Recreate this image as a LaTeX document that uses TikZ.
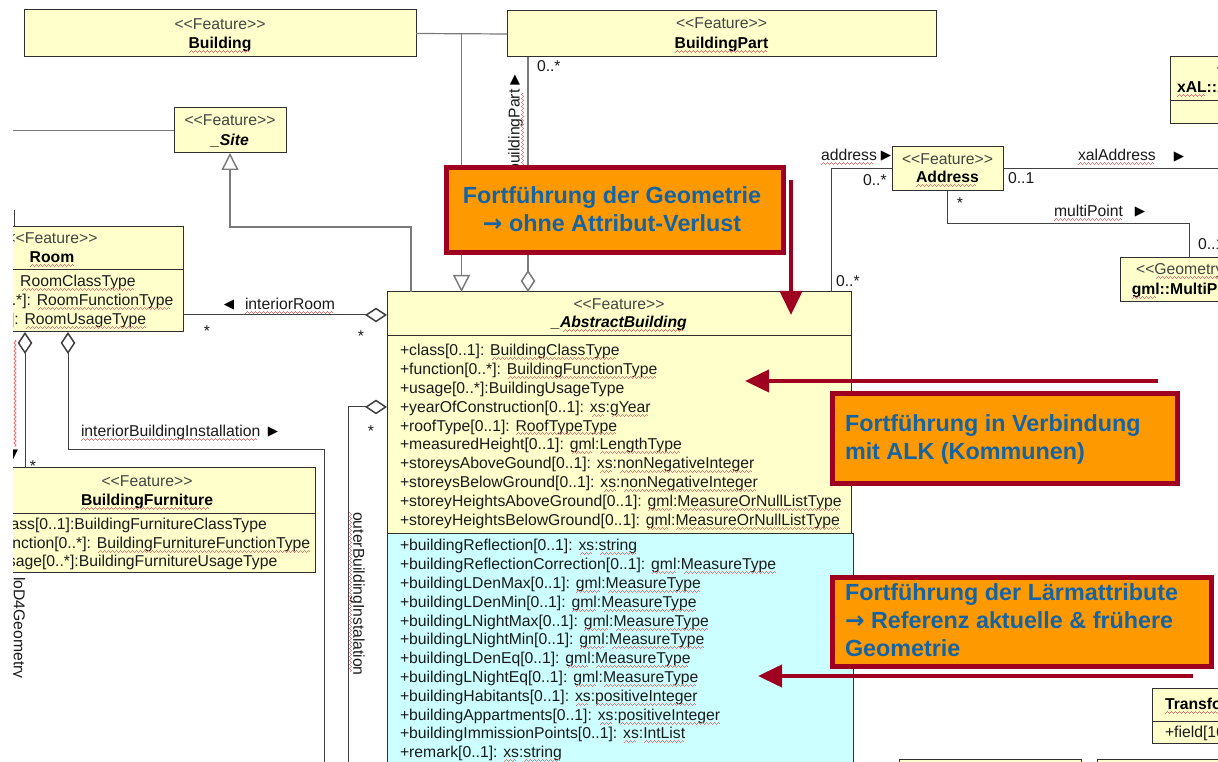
\documentclass[tikz,border=0pt]{standalone}
\usepackage{fontspec}
\setmainfont{Liberation Sans}
\newfontfamily\symf{DejaVu Sans}
\usetikzlibrary{arrows.meta,decorations.pathmorphing,calc}

\definecolor{umlyellow}{HTML}{FFFFCC}
\definecolor{umlcyan}{HTML}{CCFFFF}
\definecolor{umlframe}{HTML}{303030}
\definecolor{umlline}{HTML}{404040}
\definecolor{umlgray}{HTML}{7A7A7A}
\definecolor{umltext}{HTML}{1A1A1A}
\definecolor{stereo}{HTML}{444444}
\definecolor{squig}{HTML}{F07070}
\definecolor{noteframe}{HTML}{A00020}
\definecolor{notefill}{HTML}{FF9900}
\definecolor{notetext}{HTML}{1464A5}

% red spell-check wave under a word
\newsavebox\sqbox
\newcommand\sqwave{\hbox{\rule[-3pt]{0.75pt}{0.5pt}\rule[-2.25pt]{0.75pt}{0.5pt}\rule[-1.5pt]{0.75pt}{0.5pt}\rule[-2.25pt]{0.75pt}{0.5pt}}}
\newcommand\sq[1]{\sbox\sqbox{#1}\leavevmode\rlap{\usebox\sqbox}{\color{squig}\leaders\sqwave\hskip\wd\sqbox}}
% stereotype brackets, kept as plain angle brackets
\newcommand\stype[1]{<\kern0pt<#1>\kern0pt>}
% bold arrow used in the notes
\newcommand\notearr{{\symf\bfseries →}}

% class rectangle: name, x, y, width, height, fill (pixel units)
\newcommand\umlrect[6]{\node[classbox, fill=#6, minimum width={(#4)*0.75pt}, minimum height={(#5)*0.75pt}] (#1) at (#2,#3) {};}

\tikzset{
  classbox/.style={draw=umlframe, line width=0.75pt, inner sep=0pt, outer sep=0pt, anchor=north west},
  uml/.style={inner sep=0pt, outer sep=0pt, font=\fontsize{11.8}{14}\selectfont, text=umltext},
  stereotype/.style={uml, text=stereo, anchor=base},
  classname/.style={uml, font=\fontsize{11.8}{14}\selectfont\bfseries, text=black, anchor=base},
  attr/.style={uml, anchor=base west},
  lbl/.style={uml, anchor=base west},
  vlbl/.style={uml, anchor=center},
  mult/.style={uml, anchor=base},
  sym/.style={inner sep=0pt, outer sep=0pt, font=\symf\fontsize{10}{10}\selectfont, text=black},
  gline/.style={draw=umlgray, line width=0.9pt},
  uline/.style={draw=umlline, line width=0.75pt},
  gen/.style={-{Triangle[open, length=12.75pt, width=12.75pt, line width=1.1pt]}},
  aggS/.style={{Diamond[open, length=16.5pt, width=11pt, line width=1.1pt]}-},
  aggE/.style={-{Diamond[open, length=16.5pt, width=11pt, line width=1.1pt]}},
  note/.style={draw=noteframe, fill=notefill, line width=3.75pt, inner sep=0pt, anchor=north west},
  notetxt/.style={inner sep=0pt, outer sep=0pt, font=\bfseries\fontsize{17.5}{21}\selectfont, text=notetext},
  notearrow/.style={draw=noteframe, line width=3pt, -{Triangle[length=18pt, width=16.5pt]}},
}

\begin{document}
\begin{tikzpicture}[x=0.75pt, y=-0.75pt]
\useasboundingbox (0,0) rectangle (1218,762);
\fill[white] (0,0) rectangle (1218,762);
\begin{scope}
\clip (13,0) rectangle (1218,762);

% ---------- classes ----------
\umlrect{building}{24}{10}{392}{47}{umlyellow}
\node[stereotype] (building-st) at (220,30) {\stype{Feature}};
\node[classname] (building-nm) at (220,49) {\sq{Building}};

\umlrect{buildingpart}{507}{11}{429}{46}{umlyellow}
\node[stereotype] (buildingpart-st) at (721.5,29) {\stype{Feature}};
\node[classname] (buildingpart-nm) at (721.5,49) {\sq{BuildingPart}};

\umlrect{site}{174}{108}{112}{45}{umlyellow}
\node[stereotype] (site-st) at (230,126) {\stype{Feature}};
\node[classname, font=\fontsize{11.8}{14}\selectfont\bfseries\itshape] (site-nm) at (230,146) {\_Site};

\umlrect{room}{-79}{227}{262}{105}{umlyellow}
\draw[umlframe, line width=0.75pt] (room.west |- 0,270) -- (room.east |- 0,270);
\node[stereotype] (room-st) at (52,244) {\stype{Feature}};
\node[classname] (room-nm) at (52,263) {\sq{Room}};
\node[attr] (room-a1) at (-70,287) {+class[0..1]: \sq{RoomClassType}};
\node[attr] (room-a2) at (-70,306) {+function[0..*]: \sq{RoomFunctionType}};
\node[attr] (room-a3) at (-70,325) {+usage[0..*]: \sq{RoomUsageType}};

\umlrect{furn}{-21}{468}{336}{105}{umlyellow}
\draw[umlframe, line width=0.75pt] (furn.west |- 0,514) -- (furn.east |- 0,514);
\node[stereotype] (furn-st) at (147,487) {\stype{Feature}};
\node[classname] (furn-nm) at (147,506) {\sq{BuildingFurniture}};
\node[attr] (furn-a1) at (-10,530) {+class[0..1]:BuildingFurnitureClassType};
\node[attr] (furn-a2) at (-10,549) {+function[0..*]: \sq{BuildingFurnitureFunctionType}};
\node[attr] (furn-a3) at (-10,567) {+usage[0..*]:BuildingFurnitureUsageType};

\umlrect{noise}{387}{534}{466}{240}{umlcyan}
\umlrect{ab}{387}{292}{464}{242}{umlyellow}
\draw[umlframe, line width=0.75pt] (ab.west |- 0,336) -- (ab.east |- 0,336);
\node[stereotype] (ab-st) at (619,310) {\stype{Feature}};
\node[classname, font=\fontsize{11.8}{14}\selectfont\bfseries\itshape] (ab-nm) at (619,328) {\_\sq{AbstractBuilding}};
\foreach \t [count=\i from 0] in {
  {+class[0..1]: \sq{BuildingClassType}},
  {+function[0..*]: \sq{BuildingFunctionType}},
  {+usage[0..*]:BuildingUsageType},
  {+yearOfConstruction[0..1]: \sq{xs}:\sq{gYear}},
  {+roofType[0..1]: \sq{RoofTypeType}},
  {+measuredHeight[0..1]: \sq{gml}:\sq{LengthType}},
  {+storeysAboveGound[0..1]: \sq{xs}:\sq{nonNegativeInteger}},
  {+storeysBelowGround[0..1]: \sq{xs}:\sq{nonNegativeInteger}},
  {+storeyHeightsAboveGround[0..1]: \sq{gml}:\sq{MeasureOrNullListType}},
  {+storeyHeightsBelowGround[0..1]: \sq{gml}:\sq{MeasureOrNullListType}}}
  \node[attr] (ab-a\i) at (400,355.5+18.9*\i) {\t};
\foreach \t [count=\i from 0] in {
  {+buildingReflection[0..1]: \sq{xs}:\sq{string}},
  {+buildingReflectionCorrection[0..1]: \sq{gml}:\sq{MeasureType}},
  {+buildingLDenMax[0..1]: \sq{gml}:\sq{MeasureType}},
  {+buildingLDenMin[0..1]: \sq{gml}:\sq{MeasureType}},
  {+buildingLNightMax[0..1]: \sq{gml}:\sq{MeasureType}},
  {+buildingLNightMin[0..1]: \sq{gml}:\sq{MeasureType}},
  {+buildingLDenEq[0..1]: \sq{gml}:\sq{MeasureType}},
  {+buildingLNightEq[0..1]: \sq{gml}:\sq{MeasureType}},
  {+buildingHabitants[0..1]: \sq{xs}:\sq{positiveInteger}},
  {+buildingAppartments[0..1]: \sq{xs}:\sq{positiveInteger}},
  {+buildingImmissionPoints[0..1]: \sq{xs}:\sq{IntList}},
  {+remark[0..1]: \sq{xs}:\sq{string}}}
  \node[attr] (noise-a\i) at (400,551+18.8*\i) {\t};

\umlrect{address}{892}{147}{111}{44}{umlyellow}
\node[stereotype] (address-st) at (947.5,165) {\stype{Feature}};
\node[classname] (address-nm) at (947.5,183) {\sq{Address}};

\umlrect{mp}{1120}{258}{138}{44}{umlyellow}
\node[stereotype] (mp-st) at (1189,275) {\stype{\sq{Geometry}}};
\node[classname] (mp-nm) at (1189,295) {\sq{gml}::MultiPoint};

\umlrect{xal}{1170}{57}{180}{67}{umlyellow}
\draw[umlframe, line width=0.75pt] (xal.west |- 0,101) -- (xal.east |- 0,101);
\node[stereotype] (xal-st) at (1262,74) {\stype{Feature}};
\node[classname, anchor=base west] (xal-nm) at (1177,93) {\sq{xAL}::AddressDetails};

\umlrect{tm}{1152}{688}{160}{55}{umlyellow}
\draw[umlframe, line width=0.75pt] (tm.west |- 0,721) -- (tm.east |- 0,721);
\node[classname, anchor=base west] (tm-nm) at (1165,710) {\sq{Transformation}};
\node[attr] (tm-a1) at (1165,737) {+field[16]};

\umlrect{low1}{899}{759}{182}{20}{umlyellow}
\umlrect{low2}{1097}{759}{200}{20}{umlyellow}

% ---------- connectors ----------
\coordinate (genJ) at ($(building.east)!0.5!(buildingpart.west)$);
\draw[gline] (building.east) -- (buildingpart.west);
\draw[gline, gen] (genJ) -- (genJ |- ab.north);
\draw[gline, aggS] (ab.north -| 528,0) -- (buildingpart.south -| 528,0);
\draw[gline, gen] (ab.north -| 411,0) |- (site.south |- 0,227) -- (site.south);
\draw[gline] (site.west) -- ++(-170,0);
\draw[uline] (room.north -| 14,0) -- ++(0,-17);

\draw[uline, aggE] (room.east |- 0,315) -- (ab.west |- 0,315);
\draw[uline, aggS] (ab.west |- 0,407) -| (348,775);
\draw[uline, aggS] (room.south -| 68,0) |- (324,450) -- (324,775);
\draw[uline, aggS] (room.south -| 25,0) -- (furn.north -| 25,0);
\draw[uline] (ab.north -| 831,0) |- (address.west);
\draw[uline] (address.east) -- ++(230,0);
\draw[uline] (address.south) |- (mp.north |- 0,224) -- (mp.north);

% ---------- connector labels ----------
\node[vlbl, rotate=90] (bp-lbl) at (516,131) {\sq{buildingPart}};
\node[sym] (bp-dir) at (515,80) {▲};
\node[mult, anchor=base west] (bp-m) at (537,72) {0..*};

\node[lbl] (ir-lbl) at (245,310) {\sq{interiorRoom}};
\node[sym] (ir-dir) at (229,305) {◀};
\node[mult] (ir-m1) at (207,337) {*};
\node[mult] (ir-m2) at (361,342) {*};

\node[lbl] (ibi-lbl) at (81,437) {\sq{interiorBuildingInstallation}};
\node[sym] (ibi-dir) at (273,432) {▶};
\node[mult] (ibi-m) at (33,472) {*};

\node[vlbl, rotate=-90] (obi-lbl) at (357,594) {\sq{outerBuildingInstalation}};
\node[mult] (obi-m) at (371,437) {*};

\node[vlbl, rotate=-90] (lod-lbl) at (18,628) {loD4Geometry};
\draw[squig, line width=0.6pt, decorate, decoration={zigzag, segment length=3pt, amplitude=0.8pt}] (room.south -| 15,0) ++(0,8) -- ++(0,107);
\node[sym] (lod-dir) at (13,455) {▼};

\node[lbl] (addr-lbl) at (821,161) {\sq{address}};
\node[sym] (addr-dir) at (886,156) {▶};
\node[mult, anchor=base west] (addr-m1) at (863,186) {0..*};
\node[mult, anchor=base west] (addr-m2) at (836,287) {0..*};

\node[lbl] (xal-lbl) at (1078,161) {\sq{xalAddress}};
\node[sym] (xal-dir) at (1179,157) {▶};
\node[mult, anchor=base west] (xal-m) at (1008,184) {0..1};

\node[lbl] (mp-lbl) at (1054,217) {\sq{multiPoint}};
\node[sym] (mp-dir) at (1140,212) {▶};
\node[mult] (mp-m1) at (960,209) {*};
\node[mult, anchor=base west] (mp-m2) at (1198,250) {0..1};

% ---------- notes ----------
\node[note, minimum width={337*0.75pt}, minimum height={85*0.75pt}] (note1) at (443.5,165.5) {};
\node[notetxt, anchor=base] (note1-l1) at (612,204) {Fortführung der Geometrie};
\node[notetxt, anchor=base] (note1-l2) at (612,232) {\notearr{} ohne Attribut-Verlust};

\node[note, minimum width={345*0.75pt}, minimum height={90*0.75pt}] (note2) at (829.5,391.5) {};
\node[notetxt, anchor=base west] (note2-l1) at (845,432) {Fortführung in Verbindung};
\node[notetxt, anchor=base west] (note2-l2) at (845,460) {mit ALK (Kommunen)};

\node[note, minimum width={379*0.75pt}, minimum height={89*0.75pt}] (note3) at (829.5,575.5) {};
\node[notetxt, anchor=base west] (note3-l1) at (845,601) {Fortführung der Lärmattribute};
\node[notetxt, anchor=base west] (note3-l2) at (845,629) {\notearr{} Referenz aktuelle \& frühere};
\node[notetxt, anchor=base west] (note3-l3) at (845,657) {Geometrie};

\coordinate (arr1s) at (791,180);
\coordinate (arr1e) at (791,315);
\coordinate (arr2s) at (1158,381);
\coordinate (arr2e) at (745,381);
\coordinate (arr3s) at (1193,676);
\coordinate (arr3e) at (758,676);
\draw[notearrow] (arr1s) -- (arr1e);
\draw[notearrow] (arr2s) -- (arr2e);
\draw[notearrow] (arr3s) -- (arr3e);
\end{scope}
\end{tikzpicture}
\end{document}
